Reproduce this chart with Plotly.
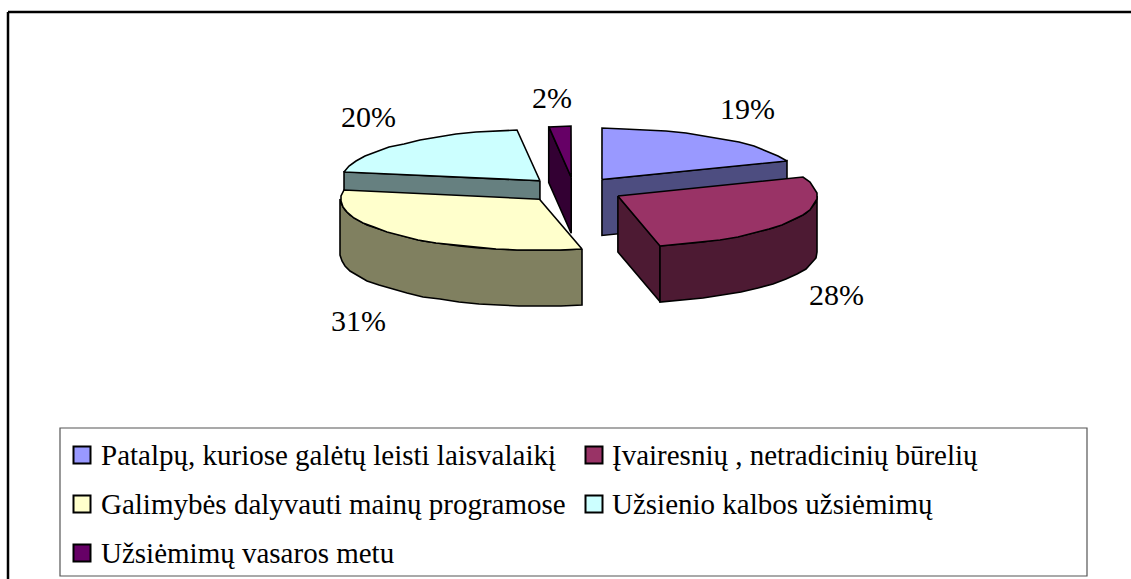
import numpy as np
import plotly.graph_objects as go

# ---- data ----
categories = [
    "Patalpų, kuriose galėtų leisti laisvalaikį",
    "Įvairesnių , netradicinių būrelių",
    "Galimybės dalyvauti mainų programose",
    "Užsienio kalbos užsiėmimų",
    "Užsiėmimų vasaros metu",
]
shares = [19.0, 27.6, 31.2, 20.4, 1.8]

# ---- style ----
top_colors = ["#9999FF", "#993366", "#FFFFCC", "#CCFFFF", "#660066"]
side_colors = ["#4D4D80", "#4D1A33", "#808060", "#668080", "#330033"]
label_pos = [(747, 108), (836, 294), (358, 320), (368, 116), (552, 97)]
legend_swatch = [(82, 455), (594, 455), (82, 504), (594, 504), (82, 553)]
legend_text_x = [99, 610, 99, 610, 99]
draw_order = [4, 0, 3, 2, 1]
CX, CY, RX, RY, EXPLODE, DEPTH = 574, 190, 199, 51, 0.25, 56
FONT = "Liberation Serif, Times New Roman, serif"

fractions = np.array(shares) / sum(shares)
ends = np.cumsum(fractions) * 360
starts = ends - fractions * 360


def pt(apex, deg):
    a = np.radians(deg)
    return apex[0] + RX * np.sin(a), apex[1] - RY * np.cos(a)


def arc(apex, a0, a1):
    n = max(2, int(abs(a1 - a0) / 6) + 1)
    xs, ys = pt(apex, np.linspace(a0, a1, n))
    return list(np.round(xs)), list(np.round(ys))


def poly(xs, ys, color):
    fig.add_trace(go.Scatter(
        x=list(xs) + [xs[0]], y=list(ys) + [ys[0]], mode="lines", fill="toself",
        fillcolor=color, line=dict(color="#000000", width=1.6),
        hoverinfo="skip", showlegend=False))


fig = go.Figure()

for i in draw_order:
    s, e = starts[i], ends[i]
    mid = np.radians((s + e) / 2)
    apex = (CX + EXPLODE * RX * np.sin(mid), CY - EXPLODE * RY * np.cos(mid))
    side, top = side_colors[i], top_colors[i]
    # radial walls that face the viewer
    walls = []
    if np.sin(np.radians(s)) < -1e-6:
        walls.append(s)
    if np.sin(np.radians(e)) > 1e-6:
        walls.append(e)
    for ang in walls:
        px, py = pt(apex, ang)
        poly([apex[0], px, px, apex[0]], [apex[1], py, py + DEPTH, apex[1] + DEPTH], side)
    # outer wall (front half of the ellipse only)
    f0, f1 = max(s, 90), min(e, 270)
    if f1 > f0:
        ax, ay = arc(apex, f0, f1)
        poly(ax + ax[::-1], ay + [v + DEPTH for v in ay[::-1]], side)
    # top face
    ax, ay = arc(apex, s, e)
    poly([apex[0]] + ax, [apex[1]] + ay, top)

# percentage labels
annotations = []
for v, (lx, ly) in zip(shares, label_pos):
    annotations.append(dict(x=lx, y=ly, text=f"{round(v)}%", showarrow=False,
                            font=dict(family=FONT, size=30, color="#000000"),
                            xanchor="center", yanchor="middle"))

# legend
for name, color, (sx, sy), tx in zip(categories, top_colors, legend_swatch, legend_text_x):
    fig.add_trace(go.Scatter(
        x=[sx], y=[sy], mode="markers", hoverinfo="skip", showlegend=False,
        marker=dict(symbol="square", size=17, color=color, line=dict(color="#000000", width=2))))
    annotations.append(dict(x=tx, y=sy, text=name, showarrow=False,
                            font=dict(family=FONT, size=29, color="#000000"),
                            xanchor="left", yanchor="middle"))

fig.update_layout(
    width=1131, height=579, margin=dict(l=0, r=0, t=0, b=0),
    paper_bgcolor="#FFFFFF", plot_bgcolor="#FFFFFF", showlegend=False,
    xaxis=dict(range=[0, 1131], visible=False, fixedrange=True),
    yaxis=dict(range=[579, 0], visible=False, fixedrange=True),
    annotations=annotations,
    shapes=[
        dict(type="line", x0=8, y0=12, x1=1131, y1=12, line=dict(color="#000000", width=2.5)),
        dict(type="line", x0=8, y0=12, x1=8, y1=579, line=dict(color="#000000", width=2.5)),
        dict(type="rect", x0=60, y0=428, x1=1087, y1=576, line=dict(color="#555555", width=1.2)),
    ],
)

fig.write_html("out.html", config=dict(displayModeBar=False),
               post_script="document.body.style.margin='0';document.body.style.overflow='hidden';")
